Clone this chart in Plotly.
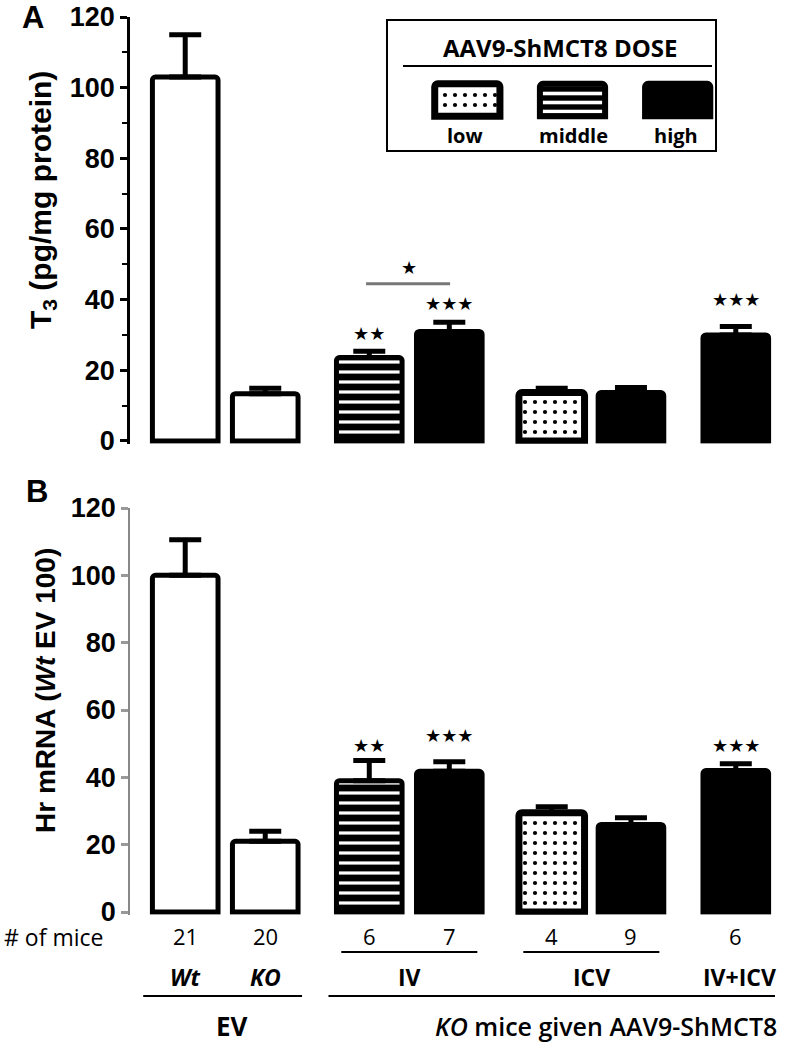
import plotly.graph_objects as go

# ---------------- data ----------------
groups = ["Wt EV", "KO EV", "KO IV middle", "KO IV high", "KO ICV low", "KO ICV high", "KO IV+ICV high"]
dose = ["none", "none", "middle", "high", "low", "high", "high"]
t3_mean = [103, 13.4, 23.6, 31, 13.7, 13.7, 30]
t3_sem = [12, 1.5, 1.8, 2.6, 1.2, 1.4, 2.4]
hr_mean = [100, 21, 39, 41.8, 29.5, 26, 42]
hr_sem = [10.6, 3, 6, 2.8, 1.8, 2, 2]
n_mice = ["21", "20", "6", "7", "4", "9", "6"]
group_labels = ["<i>Wt</i>", "<i>KO</i>", "IV", "ICV", "IV+ICV"]
legend_doses = ["low", "middle", "high"]
sig_t3 = ["", "", "★★", "★★★", "", "", "★★★"]
sig_hr = ["", "", "★★", "★★★", "", "", "★★★"]
y_ticks = [0, 20, 40, 60, 80, 100, 120]

# ---------------- layout helpers ----------------
xpos = [0, 1, 2.3, 3.3, 4.58, 5.57, 6.88]
BW = 0.82
W, H = 792, 1050
L, R = 130, 17


def px(p):
    return (p - L) / (W - L - R)


def py(p):
    return (H - p) / H


def style(d, lw=5):
    if d == "none":
        return dict(color="white", line=dict(color="black", width=lw), cornerradius=3)
    if d == "high":
        return dict(color="black", line=dict(color="black", width=lw), cornerradius=3)
    if d == "middle":
        return dict(color="black", line=dict(color="black", width=lw), cornerradius=3,
                    pattern=dict(shape="-", bgcolor="black", fgcolor="white", size=10,
                                 solidity=0.32, fillmode="replace"))
    return dict(color="white", line=dict(color="black", width=lw + 2), cornerradius=3,
                pattern=dict(shape=".", bgcolor="white", fgcolor="black", size=10,
                             solidity=0.14, fillmode="replace"))


fig = go.Figure()

for panel, (means, sems, xa, ya) in enumerate([(t3_mean, t3_sem, "x", "y"), (hr_mean, hr_sem, "x2", "y2")]):
    for i in range(len(groups)):
        fig.add_trace(go.Bar(
            x=[xpos[i]], y=[means[i]], width=BW, name=groups[i], showlegend=False,
            marker=style(dose[i]), xaxis=xa, yaxis=ya,
            error_y=dict(type="data", array=[sems[i]], arrayminus=[0], symmetric=False,
                         thickness=5, width=16, color="black"),
        ))

# legend swatches
fig.add_trace(go.Bar(x=[0], y=[1], width=0.62, marker=style("low", 5), xaxis="x3", yaxis="y3", showlegend=False))
fig.add_trace(go.Bar(x=[1], y=[1], width=0.62,
                     marker=dict(color="black", line=dict(color="black", width=6), cornerradius=3,
                                 pattern=dict(shape="-", bgcolor="black", fgcolor="white", size=9,
                                              solidity=0.4, fillmode="replace")),
                     xaxis="x3", yaxis="y3", showlegend=False))
fig.add_trace(go.Bar(x=[2], y=[1], width=0.62, marker=style("high", 6), xaxis="x3", yaxis="y3", showlegend=False))

tickfont = dict(family="Liberation Sans", size=27, color="black", weight="bold")
yax_common = dict(range=[-0.8, 120], tickvals=y_ticks, showline=True, linecolor="black",
                  linewidth=2.5, ticks="outside", ticklen=7, tickwidth=2.5, tickcolor="black",
                  showgrid=False, zeroline=False, tickfont=tickfont, fixedrange=True,
                  automargin=False)

fig.update_layout(
    width=W, height=H, autosize=False,
    margin=dict(l=L, r=R, t=0, b=0, pad=0, autoexpand=False),
    paper_bgcolor="white", plot_bgcolor="rgba(0,0,0,0)", barmode="overlay",
    xaxis=dict(domain=[0, 1], range=[-0.69, 7.37], visible=False, anchor="y", automargin=False),
    xaxis2=dict(domain=[0, 1], range=[-0.69, 7.37], visible=False, anchor="y2", automargin=False),
    yaxis=dict(domain=[py(443.8), py(17)], anchor="x",
               minor=dict(ticks="outside", ticklen=5, tickwidth=2, dtick=10, tickcolor="black"),
               **yax_common),
    yaxis2=dict(domain=[py(914.7), py(508)], anchor="x2", **{**yax_common, "linecolor": "#888",
                                                            "linewidth": 1.5, "tickcolor": "#999"}),
    xaxis3=dict(domain=[px(420), px(725)], range=[-0.45, 2.45], visible=False, anchor="y3", automargin=False),
    yaxis3=dict(domain=[py(120), py(80)], range=[-0.12, 1.12], visible=False, anchor="x3", automargin=False),
)

ann = []
shapes = []


def note(text, x, y, xref="paper", yref="paper", xanchor="center", font=None, **kw):
    ann.append(dict(text=text, x=x, y=y, xref=xref, yref=yref, xanchor=xanchor, yanchor="middle",
                    showarrow=False, font=font, **kw))


# panel letters
note("A", px(33), py(17), font=dict(family="Liberation Sans", size=31, weight="bold", color="black"))
note("B", px(37), py(492), font=dict(family="Liberation Sans", size=31, weight="bold", color="black"))
# y titles
note("T<sub>3</sub> (pg/mg protein)", px(42), py(200), textangle=-90,
     font=dict(family="Liberation Sans", size=30, weight="bold", color="black"))
note("Hr mRNA (<i>Wt</i> EV 100)", px(45), py(690), textangle=-90,
     font=dict(family="Liberation Sans", size=28, weight="bold", color="black"))

# significance stars
starfont = dict(family="DejaVu Sans", size=18, color="black")
star_y_t3 = [0, 0, 30.4, 39, 0, 0, 40]
star_y_hr = [0, 0, 49.5, 52.3, 0, 0, 49.5]
for i in range(len(groups)):
    if sig_t3[i]:
        note(sig_t3[i], xpos[i], star_y_t3[i], xref="x", yref="y", font=starfont)
    if sig_hr[i]:
        note(sig_hr[i], xpos[i], star_y_hr[i], xref="x2", yref="y2", font=starfont)
shapes.append(dict(type="line", x0=xpos[2] - 0.04, x1=xpos[3] + 0.01, y0=44.5, y1=44.5, xref="x", yref="y",
                   line=dict(color="#777", width=3)))
note("★", (xpos[2] + xpos[3]) / 2, 49, xref="x", yref="y", font=starfont)

# bottom labels
lblfont = dict(family="Open Sans", size=22, color="black")
note("# of mice", px(2), py(937), xanchor="left", font=dict(family="Open Sans", size=23, color="black"))
for i in range(len(groups)):
    note(n_mice[i], xpos[i], py(936), xref="x2", font=lblfont)

shapes.append(dict(type="line", x0=xpos[2] - 0.35, x1=xpos[3] + 0.35, y0=py(952), y1=py(952),
                   xref="x2", yref="paper", line=dict(color="black", width=2)))
shapes.append(dict(type="line", x0=xpos[4] - 0.355, x1=xpos[5] + 0.355, y0=py(952), y1=py(952),
                   xref="x2", yref="paper", line=dict(color="black", width=2)))

bold22 = dict(family="Open Sans", size=23, color="black", weight="bold")
gx = [xpos[0], xpos[1], (xpos[2] + xpos[3]) / 2, (xpos[4] + xpos[5]) / 2, xpos[6] + 0.05]
for lab, x in zip(group_labels, gx):
    note(lab, x, py(977), xref="x2", font=bold22)

shapes.append(dict(type="line", x0=-0.525, x1=1.46, y0=py(996), y1=py(996),
                   xref="x2", yref="paper", line=dict(color="black", width=2)))
shapes.append(dict(type="line", x0=1.79, x1=7.46, y0=py(996), y1=py(996),
                   xref="x2", yref="paper", line=dict(color="black", width=2)))
note("EV", 0.59, py(1026), xref="x2", font=dict(family="Open Sans", size=26, color="black", weight="bold"))
note("<i>KO</i> mice given AAV9-ShMCT8", px(779), py(1026), xanchor="right",
     font=dict(family="Open Sans", size=25, color="black", weight=600))

# legend box
shapes.append(dict(type="rect", x0=px(387), x1=px(716), y0=py(20), y1=py(151), xref="paper", yref="paper",
                   line=dict(color="black", width=2), fillcolor="rgba(0,0,0,0)"))
shapes.append(dict(type="line", x0=px(403), x1=px(712), y0=py(66), y1=py(66), xref="paper", yref="paper",
                   line=dict(color="black", width=2)))
note("AAV9-ShMCT8 DOSE", px(560), py(48),
     font=dict(family="Open Sans", size=24, color="black", weight="bold"))
for lab, xx in zip(legend_doses, [465, 573, 676]):
    note(lab, px(xx), py(135), font=dict(family="Open Sans", size=20, color="black", weight="bold"))

fig.update_layout(annotations=ann, shapes=shapes)
fig.write_html("out.html", config={"displayModeBar": False},
               post_script="document.body.style.margin='0';document.body.style.overflow='hidden';")
